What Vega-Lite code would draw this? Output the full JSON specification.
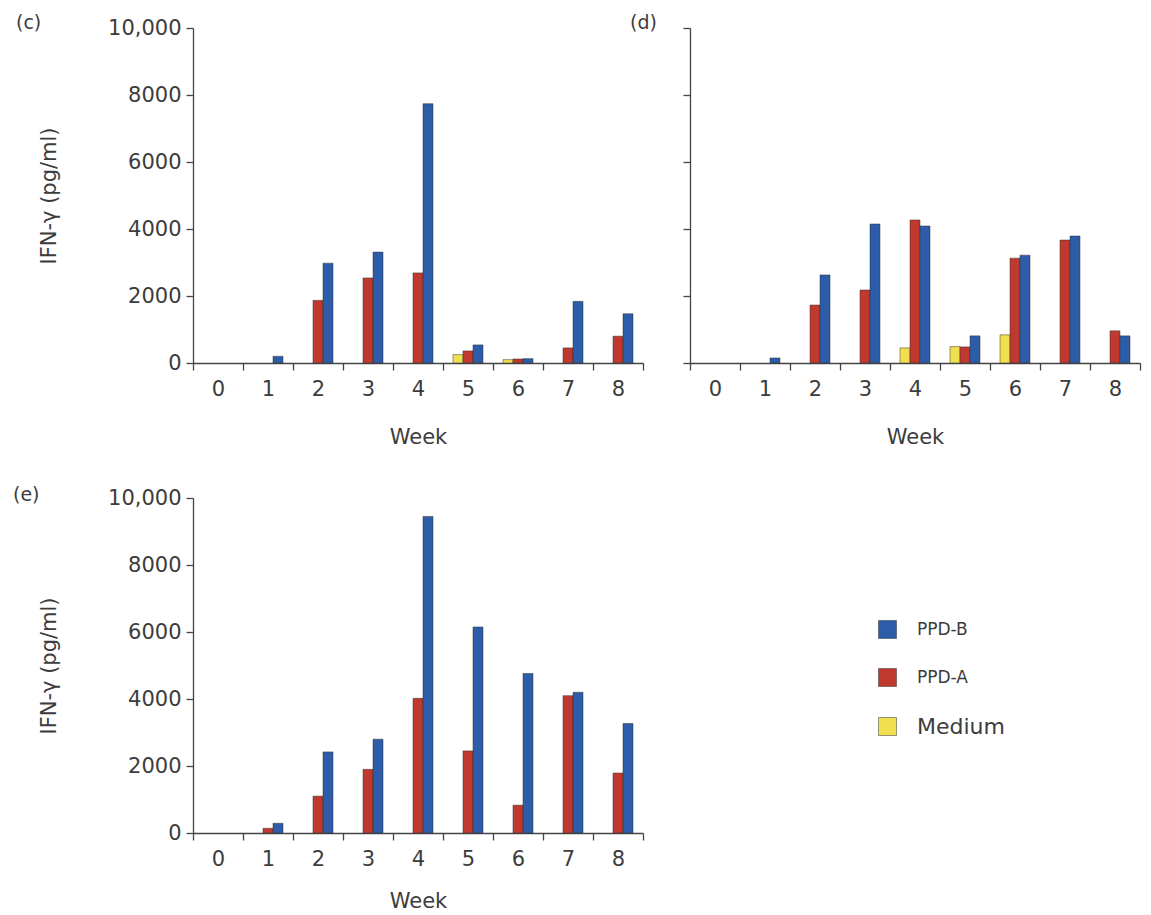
{
  "$schema": "https://vega.github.io/schema/vega-lite/v6.json",
  "padding": {"left": 13, "top": 14, "right": 10, "bottom": 5},
  "background": "white",
  "config": {
    "font": "DejaVu Sans",
    "view": {"stroke": null},
    "axis": {"grid": false, "domainColor": "#444", "tickColor": "#444", "labelColor": "#3c3c3c", "titleColor": "#3c3c3c", "labelFontSize": 21, "titleFontSize": 21, "titleFontWeight": "normal", "tickSize": 7, "domainWidth": 1.3, "tickWidth": 1.3},
    "title": {"fontSize": 19, "fontWeight": "normal", "color": "#3c3c3c", "anchor": "start", "frame": "group", "offset": 0},
    "bar": {"stroke": "#333", "strokeWidth": 0.5}
  },
  "datasets": {
    "ifn": [
      {"panel": "c", "week": 1, "stim": "PPD-B", "value": 200},
      {"panel": "c", "week": 2, "stim": "PPD-A", "value": 1870},
      {"panel": "c", "week": 2, "stim": "PPD-B", "value": 2980},
      {"panel": "c", "week": 3, "stim": "PPD-A", "value": 2540},
      {"panel": "c", "week": 3, "stim": "PPD-B", "value": 3310},
      {"panel": "c", "week": 4, "stim": "PPD-A", "value": 2690},
      {"panel": "c", "week": 4, "stim": "PPD-B", "value": 7740},
      {"panel": "c", "week": 5, "stim": "Medium", "value": 250},
      {"panel": "c", "week": 5, "stim": "PPD-A", "value": 360},
      {"panel": "c", "week": 5, "stim": "PPD-B", "value": 540},
      {"panel": "c", "week": 6, "stim": "Medium", "value": 100},
      {"panel": "c", "week": 6, "stim": "PPD-A", "value": 120},
      {"panel": "c", "week": 6, "stim": "PPD-B", "value": 130},
      {"panel": "c", "week": 7, "stim": "PPD-A", "value": 450},
      {"panel": "c", "week": 7, "stim": "PPD-B", "value": 1840},
      {"panel": "c", "week": 8, "stim": "PPD-A", "value": 800},
      {"panel": "c", "week": 8, "stim": "PPD-B", "value": 1470},
      {"panel": "d", "week": 1, "stim": "PPD-B", "value": 150},
      {"panel": "d", "week": 2, "stim": "PPD-A", "value": 1730},
      {"panel": "d", "week": 2, "stim": "PPD-B", "value": 2630},
      {"panel": "d", "week": 3, "stim": "PPD-A", "value": 2180},
      {"panel": "d", "week": 3, "stim": "PPD-B", "value": 4150},
      {"panel": "d", "week": 4, "stim": "Medium", "value": 450},
      {"panel": "d", "week": 4, "stim": "PPD-A", "value": 4270},
      {"panel": "d", "week": 4, "stim": "PPD-B", "value": 4090},
      {"panel": "d", "week": 5, "stim": "Medium", "value": 490},
      {"panel": "d", "week": 5, "stim": "PPD-A", "value": 480},
      {"panel": "d", "week": 5, "stim": "PPD-B", "value": 810},
      {"panel": "d", "week": 6, "stim": "Medium", "value": 840},
      {"panel": "d", "week": 6, "stim": "PPD-A", "value": 3130},
      {"panel": "d", "week": 6, "stim": "PPD-B", "value": 3220},
      {"panel": "d", "week": 7, "stim": "PPD-A", "value": 3670},
      {"panel": "d", "week": 7, "stim": "PPD-B", "value": 3790},
      {"panel": "d", "week": 8, "stim": "PPD-A", "value": 960},
      {"panel": "d", "week": 8, "stim": "PPD-B", "value": 810},
      {"panel": "e", "week": 1, "stim": "PPD-A", "value": 140},
      {"panel": "e", "week": 1, "stim": "PPD-B", "value": 290},
      {"panel": "e", "week": 2, "stim": "PPD-A", "value": 1100},
      {"panel": "e", "week": 2, "stim": "PPD-B", "value": 2420},
      {"panel": "e", "week": 3, "stim": "PPD-A", "value": 1900},
      {"panel": "e", "week": 3, "stim": "PPD-B", "value": 2800},
      {"panel": "e", "week": 4, "stim": "PPD-A", "value": 4020},
      {"panel": "e", "week": 4, "stim": "PPD-B", "value": 9450},
      {"panel": "e", "week": 5, "stim": "PPD-A", "value": 2450},
      {"panel": "e", "week": 5, "stim": "PPD-B", "value": 6150},
      {"panel": "e", "week": 6, "stim": "PPD-A", "value": 830},
      {"panel": "e", "week": 6, "stim": "PPD-B", "value": 4760},
      {"panel": "e", "week": 7, "stim": "PPD-A", "value": 4100},
      {"panel": "e", "week": 7, "stim": "PPD-B", "value": 4200},
      {"panel": "e", "week": 8, "stim": "PPD-A", "value": 1790},
      {"panel": "e", "week": 8, "stim": "PPD-B", "value": 3270}
    ]
  },
  "columns": 2,
  "spacing": {"row": 135, "column": 47},
  "bounds": "flush",
  "resolve": {"legend": {"color": "independent"}},
  "concat": [
    {
      "title": {"text": "(c)", "dx": -177, "dy": 20, "fontSize": 19},
      "width": 450, "height": 335,
      "data": {"name": "ifn"},
      "transform": [{"filter": "datum.panel === 'c'"}],
      "mark": {"type": "bar"},
      "encoding": {
        "x": {"field": "week", "type": "ordinal", "scale": {"domain": [0,1,2,3,4,5,6,7,8], "paddingInner": 0, "paddingOuter": 0}, "axis": {"title": "Week", "labelAngle": 0, "tickBand": "extent", "labelPadding": 8, "titlePadding": 27}},
        "xOffset": {"field": "stim", "type": "nominal", "scale": {"domain": ["Medium", "PPD-A", "PPD-B"], "paddingInner": 0, "paddingOuter": 1}},
        "y": {"field": "value", "type": "quantitative", "scale": {"domain": [0, 10000], "nice": false}, "axis": {"title": "IFN-γ (pg/ml)", "values": [0,2000,4000,6000,8000,10000], "labelExpr": "datum.value === 10000 ? '10,000' : '' + datum.value", "labelPadding": 5, "titlePadding": 48}},
        "color": {"field": "stim", "type": "nominal", "scale": {"domain": ["PPD-B", "PPD-A", "Medium"], "range": ["#2d5ca8", "#c0392f", "#f0e050"]}, "legend": null}
      }
    },
    {
      "title": {"text": "(d)", "dx": -60, "dy": 10, "fontSize": 19},
      "width": 450, "height": 335,
      "data": {"name": "ifn"},
      "transform": [{"filter": "datum.panel === 'd'"}],
      "mark": {"type": "bar"},
      "encoding": {
        "x": {"field": "week", "type": "ordinal", "scale": {"domain": [0,1,2,3,4,5,6,7,8], "paddingInner": 0, "paddingOuter": 0}, "axis": {"title": "Week", "labelAngle": 0, "tickBand": "extent", "labelPadding": 8, "titlePadding": 27}},
        "xOffset": {"field": "stim", "type": "nominal", "scale": {"domain": ["Medium", "PPD-A", "PPD-B"], "paddingInner": 0, "paddingOuter": 1}},
        "y": {"field": "value", "type": "quantitative", "scale": {"domain": [0, 10000], "nice": false}, "axis": {"title": null, "labels": false, "values": [0,2000,4000,6000,8000,10000]}},
        "color": {"field": "stim", "type": "nominal", "scale": {"domain": ["PPD-B", "PPD-A", "Medium"], "range": ["#2d5ca8", "#c0392f", "#f0e050"]}, "legend": null}
      }
    },
    {
      "title": {"text": "(e)", "dx": -180, "dy": 22, "fontSize": 19},
      "width": 450, "height": 335,
      "data": {"name": "ifn"},
      "transform": [{"filter": "datum.panel === 'e'"}],
      "mark": {"type": "bar"},
      "encoding": {
        "x": {"field": "week", "type": "ordinal", "scale": {"domain": [0,1,2,3,4,5,6,7,8], "paddingInner": 0, "paddingOuter": 0}, "axis": {"title": "Week", "labelAngle": 0, "tickBand": "extent", "labelPadding": 8, "titlePadding": 21}},
        "xOffset": {"field": "stim", "type": "nominal", "scale": {"domain": ["Medium", "PPD-A", "PPD-B"], "paddingInner": 0, "paddingOuter": 1}},
        "y": {"field": "value", "type": "quantitative", "scale": {"domain": [0, 10000], "nice": false}, "axis": {"title": "IFN-γ (pg/ml)", "values": [0,2000,4000,6000,8000,10000], "labelExpr": "datum.value === 10000 ? '10,000' : '' + datum.value", "labelPadding": 5, "titlePadding": 48}},
        "color": {"field": "stim", "type": "nominal", "scale": {"domain": ["PPD-B", "PPD-A", "Medium"], "range": ["#2d5ca8", "#c0392f", "#f0e050"]},
          "legend": {"title": null, "orient": "none", "legendX": 685, "legendY": 122, "padding": 0, "symbolType": "square", "symbolSize": 324, "symbolStrokeColor": "#333", "symbolStrokeWidth": 1, "rowPadding": 27, "labelOffset": 20, "labelColor": "#3c3c3c",
            "labelFontSize": {"expr": "datum.label === 'Medium' ? 22 : 17"}}}
      }
    }
  ]
}
